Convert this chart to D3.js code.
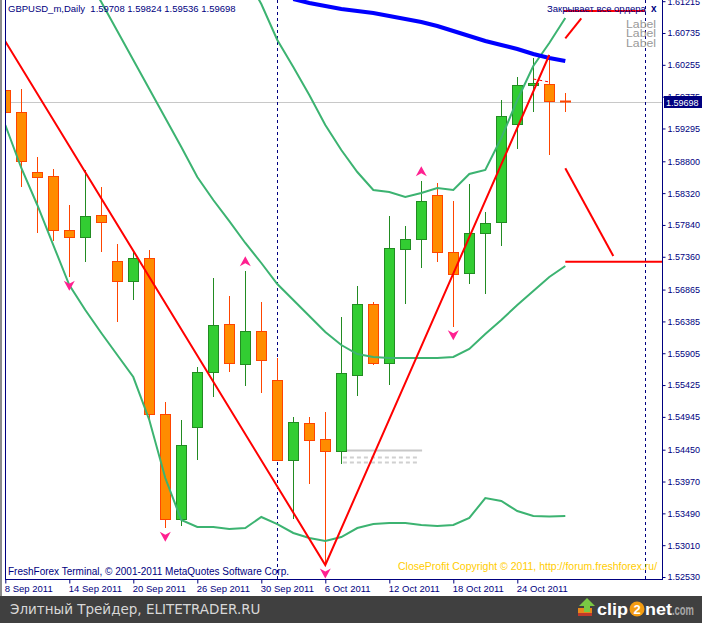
<!DOCTYPE html>
<html><head><meta charset="utf-8">
<script src="https://cdn.jsdelivr.net/npm/d3@7"></script>
<style>
body{margin:0;background:#fff;}
svg{display:block;}
text{font-family:"Liberation Sans",Arial,sans-serif;}
</style>
</head><body><div id="chart"></div>
<script>
// ---------------- data ----------------
const dates = ["2011-09-08","2011-09-09","2011-09-12","2011-09-13","2011-09-14","2011-09-15","2011-09-16",
"2011-09-19","2011-09-20","2011-09-21","2011-09-22","2011-09-23","2011-09-26","2011-09-27","2011-09-28",
"2011-09-29","2011-09-30","2011-10-03","2011-10-04","2011-10-05","2011-10-06","2011-10-07","2011-10-10",
"2011-10-11","2011-10-12","2011-10-13","2011-10-14","2011-10-17","2011-10-18","2011-10-19","2011-10-20",
"2011-10-21","2011-10-24","2011-10-25","2011-10-26","2011-10-27"];
const openP  = [1.59875,1.59543,1.58638,1.58574,1.57759,1.57654,1.57990,1.57292,1.56994,1.57341,1.54984,1.53400,
1.54788,1.55617,1.56341,1.55738,1.56236,1.55497,1.54290,1.54848,1.54607,1.54426,1.55572,1.56643,1.55753,1.57482,
1.57623,1.58287,1.57427,1.57111,1.57714,1.57880,1.59358,1.59946,1.59966,1.59708];
const highP  = [1.60810,1.59890,1.58865,1.58684,1.58145,1.58669,1.58408,1.57553,1.57462,1.57462,1.55174,1.54898,
1.55702,1.57044,1.56773,1.57150,1.56673,1.55838,1.54948,1.54948,1.55014,1.56456,1.56919,1.56682,1.57979,1.57824,
1.58507,1.58477,1.58201,1.58458,1.58040,1.59720,1.60071,1.60358,1.60403,1.59824];
const lowP   = [1.59121,1.58412,1.57723,1.57602,1.57050,1.57286,1.57436,1.56376,1.56708,1.54898,1.53264,1.53304,
1.54295,1.55249,1.55626,1.55415,1.55310,1.54280,1.53400,1.53933,1.52711,1.54230,1.55260,1.55727,1.55426,1.56648,
1.57195,1.57286,1.56305,1.56945,1.56798,1.57527,1.58990,1.59548,1.58895,1.59536];
const closeP = [1.59543,1.58804,1.58568,1.57759,1.57654,1.57975,1.57880,1.56994,1.57341,1.54988,1.53400,1.54516,
1.55617,1.56326,1.55753,1.56236,1.55798,1.54290,1.54863,1.54592,1.54426,1.55602,1.56643,1.55753,1.57488,1.57623,
1.58197,1.57427,1.57096,1.57714,1.57865,1.59479,1.59946,1.59981,1.59705,1.59698];

const bandLower = [1.59347,1.58699,1.58141,1.57537,1.56934,1.56557,1.56210,1.55878,1.55546,1.54898,1.54023,1.53390,
1.53284,1.53284,1.53254,1.53269,1.53435,1.53329,1.53194,1.53118,1.53073,1.53133,1.53269,1.53329,1.53344,1.53344,
1.53314,1.53299,1.53314,1.53420,1.53721,1.53676,1.53525,1.53450,1.53442,1.53450];
const bandMidStart = 5;
const bandMid = [1.61610,1.61203,1.60765,1.60328,1.59890,1.59453,1.59016,1.58563,1.58216,1.57899,1.57568,1.57266,
1.56949,1.56708,1.56467,1.56225,1.56029,1.55893,1.55848,1.55833,1.55833,1.55833,1.55833,1.55848,1.55969,1.56195,
1.56406,1.56632,1.56844,1.57055,1.57221];
const bandUpperStart = 15;
const bandUpper = [1.61610,1.61172,1.60629,1.60222,1.59800,1.59347,1.58970,1.58638,1.58367,1.58337,1.58261,1.58322,
1.58397,1.58367,1.58608,1.58669,1.59151,1.59724,1.60237,1.60584,1.60961];
const maStart = 18;
const maSlow = [1.61248,1.61188,1.61142,1.61097,1.61067,1.61037,1.60991,1.60946,1.60901,1.60841,1.60765,1.60690,
1.60614,1.60554,1.60494,1.60418,1.60358,1.60313];

const zigzagIdx = [-1, 20, 34];
const zigzagPrice = [1.61005, 1.52711, 1.60403];

// projection lines (bar index, price)
const projTopFlat  = [[34.9, 1.61067], [40.0, 1.61067]];
const projTopDiag  = [[35.0, 1.60655], [36.0, 1.60957]];
const projMidDiag  = [[35.0, 1.58694], [38.0, 1.57371]];
const projLowFlat  = [[35.0, 1.57286], [41.05, 1.57286]];
const projDashed   = [[33.0, 1.60041], [34.0, 1.59996]];
const grayLevelSolid  = [[21.05, 1.54445], [26.05, 1.54445]];
const grayLevelDashed = [[[21.1, 1.54335], [25.9, 1.54335]], [[21.1, 1.54269], [25.9, 1.54269]]];

const fractalUpIdx = [15, 26];
const fractalDownIdx = [4, 10, 20, 28];

const priceTicks = ["1.61215","1.60735","1.60255","1.59775","1.59295","1.58800","1.58320","1.57840","1.57360",
"1.56865","1.56385","1.55905","1.55425","1.54945","1.54450","1.53970","1.53490","1.53010","1.52530"];
const dateTickIdx = [0,4,8,12,16,20,24,28,32];
const vLineIdx = [17, 40];
const lastPrice = 1.59698;
const headerText = "GBPUSD_m,Daily  1.59708 1.59824 1.59536 1.59698";

// ---------------- chart ----------------
const W = 702, H = 623;
const plotL = 5, plotR = 662, plotT = 0, plotB = 579;
const navy = "#000080";

const x = d3.scaleLinear().domain([0, 40]).range([5.3, 645.3]);
const y = d3.scaleLinear().domain([1.52530, 1.60735]).range([577, 33]);
const parse = d3.timeParse("%Y-%m-%d");
const fmt = d3.timeFormat("%-d %b %Y");

const svg = d3.select("#chart").append("svg").attr("width", W).attr("height", H);
svg.append("rect").attr("width", W).attr("height", H).attr("fill", "#fff");

svg.append("defs").append("clipPath").attr("id", "plotclip")
  .append("rect").attr("x", plotL).attr("y", plotT).attr("width", plotR - plotL).attr("height", plotB - plotT);

const plot = svg.append("g").attr("clip-path", "url(#plotclip)");

// bid line
plot.append("line").attr("x1", plotL).attr("x2", plotR)
  .attr("y1", Math.round(y(lastPrice)) + 0.5).attr("y2", Math.round(y(lastPrice)) + 0.5)
  .attr("stroke", "#c8c8c8").attr("stroke-width", 1);

// vertical dashed lines
vLineIdx.forEach(i => {
  const xx = Math.round(x(i)) + 0.5;
  plot.append("line").attr("x1", xx).attr("x2", xx).attr("y1", plotT).attr("y2", plotB)
    .attr("stroke", navy).attr("stroke-width", 1).attr("stroke-dasharray", "3,3");
});

// gray levels
const segLine = d3.line().x(d => x(d[0])).y(d => Math.round(y(d[1])) + 0.5);
plot.append("path").attr("d", segLine(grayLevelSolid)).attr("stroke", "#c8c8c8").attr("stroke-width", 2).attr("fill", "none");
grayLevelDashed.forEach(s => plot.append("path").attr("d", segLine(s)).attr("stroke", "#d0d0d0")
  .attr("stroke-width", 2).attr("stroke-dasharray", "4,3").attr("fill", "none"));

// candles
const bars = dates.map((d, i) => ({i, o: openP[i], h: highP[i], l: lowP[i], c: closeP[i]}));
const bull = "#32cd32", bullEdge = "#228b22", bear = "#ff8c00", bearEdge = "#ff4500";
const cg = plot.append("g");
bars.forEach(b => {
  const cx = Math.round(x(b.i));
  const up = b.c > b.o;
  const edge = up ? bullEdge : bearEdge;
  cg.append("line").attr("x1", cx + 0.5).attr("x2", cx + 0.5)
    .attr("y1", Math.round(y(b.h))).attr("y2", Math.round(y(b.l)))
    .attr("stroke", edge).attr("stroke-width", 1);
  const yt = Math.round(y(Math.max(b.o, b.c))), yb = Math.round(y(Math.min(b.o, b.c)));
  if (b.i === bars.length - 1) {
    cg.append("line").attr("x1", cx - 5).attr("x2", cx + 6).attr("y1", yt + 0.5).attr("y2", yt + 0.5)
      .attr("stroke", edge).attr("stroke-width", 2);
  } else {
    cg.append("rect").attr("x", cx - 5 + 0.5).attr("y", yt + 0.5)
      .attr("width", 10).attr("height", Math.max(1, yb - yt))
      .attr("fill", up ? bull : bear).attr("stroke", edge).attr("stroke-width", 1);
  }
});

// bands
const idxLine = d3.line().x(d => x(d[0])).y(d => y(d[1]));
function series(arr, start) { return arr.map((v, k) => [start + k, v]); }
const bandColor = "#3cb371";
[series(bandLower, 0), series(bandMid, bandMidStart), series(bandUpper, bandUpperStart)].forEach(s =>
  plot.append("path").attr("d", idxLine(s)).attr("fill", "none").attr("stroke", bandColor).attr("stroke-width", 2));

// slow MA
plot.append("path").attr("d", idxLine(series(maSlow, maStart))).attr("fill", "none")
  .attr("stroke", "#0000ff").attr("stroke-width", 4);

// zigzag
plot.append("path").attr("d", idxLine(zigzagIdx.map((d, k) => [d, zigzagPrice[k]])))
  .attr("fill", "none").attr("stroke", "#ff0000").attr("stroke-width", 2);

// projections
[projTopFlat, projTopDiag, projMidDiag, projLowFlat].forEach(s =>
  plot.append("path").attr("d", idxLine(s)).attr("fill", "none").attr("stroke", "#ff0000").attr("stroke-width", 2));
plot.append("path").attr("d", idxLine(projDashed)).attr("fill", "none").attr("stroke", "#ff0000")
  .attr("stroke-width", 1).attr("stroke-dasharray", "3,3");

// fractal arrows
const pink = "#ff2090";
fractalUpIdx.forEach(i => {
  plot.append("path").attr("transform", `translate(${x(i)},${y(highP[i]) - 9})`)
    .attr("d", "M0,-5.5 L5.5,4.5 L0,1.5 L-5.5,4.5 Z").attr("fill", pink);
});
fractalDownIdx.forEach(i => {
  plot.append("path").attr("transform", `translate(${x(i)},${y(lowP[i]) + 8})`)
    .attr("d", "M0,5.5 L5.5,-4.5 L0,-1.5 L-5.5,-4.5 Z").attr("fill", pink);
});

// frame lines
svg.append("line").attr("x1", plotL + 0.5).attr("x2", plotL + 0.5).attr("y1", 0).attr("y2", plotB)
  .attr("stroke", navy).attr("stroke-width", 1);
svg.append("line").attr("x1", plotR + 0.5).attr("x2", plotR + 0.5).attr("y1", 0).attr("y2", plotB + 1)
  .attr("stroke", navy).attr("stroke-width", 1);
svg.append("line").attr("x1", plotL).attr("x2", plotR + 1).attr("y1", plotB + 0.5).attr("y2", plotB + 0.5)
  .attr("stroke", navy).attr("stroke-width", 1);

// right price axis
const yAxis = d3.axisRight(y).tickValues(priceTicks.map(Number)).tickFormat((d, k) => priceTicks[k])
  .tickSize(3).tickSizeOuter(0).tickPadding(2);
const ya = svg.append("g").attr("transform", `translate(${plotR + 0.5},0)`).call(yAxis);
ya.select(".domain").remove();
ya.selectAll("line").attr("stroke", navy);
ya.selectAll("text").attr("fill", navy).style("font-size", "9px");

// bottom date axis
const xAxis = d3.axisBottom(x).tickValues(dateTickIdx).tickFormat(i => fmt(parse(dates[i])))
  .tickSize(4).tickSizeOuter(0);
const xa = svg.append("g").attr("transform", `translate(0,${plotB + 0.5})`).call(xAxis);
xa.select(".domain").remove();
xa.selectAll("line").attr("stroke", navy);
xa.selectAll("text").attr("fill", navy).style("font-size", "9.5px")
  .attr("text-anchor", "start").attr("x", -1).attr("y", 6);

// last price label
const yp = Math.round(y(lastPrice));
svg.append("rect").attr("x", 664).attr("y", yp - 6).attr("width", 38).attr("height", 12).attr("fill", navy);
svg.append("text").attr("x", 666).attr("y", yp + 3.5).attr("fill", "#fff").style("font-size", "9px").text(d3.format(".5f")(lastPrice));

// header
svg.append("text").attr("x", 8).attr("y", 11.5).attr("fill", navy).style("font-size", "9.5px")
  .attr("xml:space", "preserve").style("white-space", "pre").text(headerText);

// top right labels
svg.append("text").attr("x", 547).attr("y", 11.5).attr("fill", navy).style("font-size", "9.5px").text("Закрывает все ордера");
svg.append("text").attr("x", 651).attr("y", 11.5).attr("fill", navy).style("font-size", "10px").style("font-weight", "bold").text("x");
["Label", "Label", "Label"].forEach((t, k) =>
  svg.append("text").attr("x", 626).attr("y", 27.5 + k * 9.8).attr("fill", "#999").style("font-size", "11px")
    .attr("textLength", 30).attr("lengthAdjust", "spacingAndGlyphs").text(t));

// bottom texts inside plot
svg.append("text").attr("x", 8).attr("y", 575).attr("fill", navy).style("font-size", "10px")
  .text("FreshForex Terminal, © 2001-2011 MetaQuotes Software Corp.");
svg.append("text").attr("x", 398).attr("y", 570).attr("fill", "#ffcc00").style("font-size", "10.5px")
  .text("CloseProfit Copyright © 2011, http://forum.freshforex.ru/");

// left window border strip
svg.append("rect").attr("x", 0).attr("y", 0).attr("width", 2).attr("height", 596).attr("fill", "#8c8c8c");

// footer bar
svg.append("rect").attr("x", 0).attr("y", 596).attr("width", W).attr("height", H - 596).attr("fill", "#404040");
svg.append("text").attr("x", 10).attr("y", 614).attr("fill", "#d8d8d8").style("font-size", "13.5px")
  .style("font-family", "'DejaVu Sans',sans-serif").text("Элитный Трейдер, ELITETRADER.RU");

// clip2net logo
const logo = svg.append("g");
logo.append("rect").attr("x", 578).attr("y", 608).attr("width", 14).attr("height", 8).attr("fill", "#e8891a");
logo.append("rect").attr("x", 578).attr("y", 613).attr("width", 14).attr("height", 3).attr("fill", "#c0392b");
logo.append("path").attr("d", "M587,598 L595,606 L590,606 L590,612 L584,612 L584,606 L579,606 Z").attr("fill", "#7ac943");
logo.append("text").attr("x", 597).attr("y", 615).attr("fill", "#fff").style("font-size", "17px").style("font-weight", "bold")
  .attr("textLength", 31).attr("lengthAdjust", "spacingAndGlyphs").text("clip");
logo.append("circle").attr("cx", 637).attr("cy", 609).attr("r", 7.5).attr("fill", "#f39c12");
logo.append("text").attr("x", 637).attr("y", 614).attr("text-anchor", "middle").attr("fill", "#fff").style("font-size", "13px").style("font-weight", "bold").text("2");
logo.append("text").attr("x", 645).attr("y", 615).attr("fill", "#fff").style("font-size", "17px").style("font-weight", "bold")
  .attr("textLength", 27).attr("lengthAdjust", "spacingAndGlyphs").text("net");
logo.append("text").attr("x", 672).attr("y", 615).attr("fill", "#a8a8a8").style("font-size", "14px").style("font-weight", "bold")
  .attr("textLength", 22).attr("lengthAdjust", "spacingAndGlyphs").text(".com");
</script>
</body></html>
